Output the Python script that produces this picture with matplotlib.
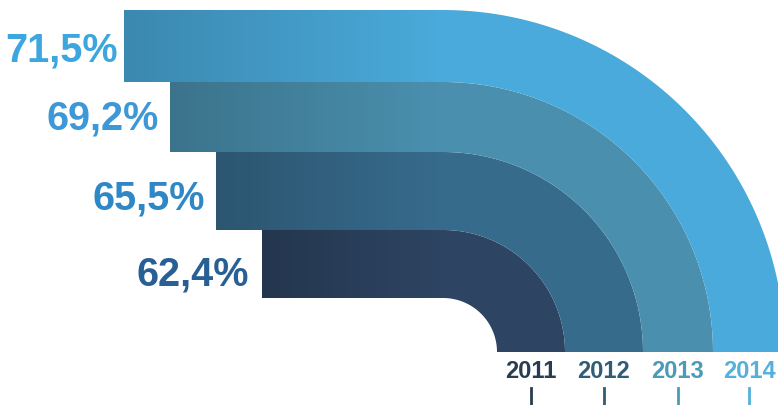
import numpy as np
import matplotlib.pyplot as plt
from matplotlib.path import Path
from matplotlib.patches import PathPatch

years = ['2011', '2012', '2013', '2014']
values = [62.4, 65.5, 69.2, 71.5]
labels = ['62,4%', '65,5%', '69,2%', '71,5%']
band_colors = ['#2d4462', '#376b8c', '#4a90ae', '#4aaadb']
label_colors = ['#285f95', '#2f87c6', '#3c98d6', '#3ca6de']
year_colors = ['#2a3c50', '#2f5d78', '#4a9ab8', '#55b0dc']

# layout (pixel space, y downwards)
cx, cy = 443, 352
r0 = 54
widths = [68, 78, 70, 72]
x0, step = 262, 46
label_dy = [11, 8, 2, 4]
label_gap = [13, 11, 11, 6]

plt.rcParams['font.family'] = ['Liberation Sans', 'DejaVu Sans']

fig = plt.figure(figsize=[7.78, 4.05], dpi=100)
ax = fig.add_axes([0, 0, 1, 1])
ax.set_xlim(0, 778)
ax.set_ylim(405, 0)
ax.axis('off')


def band(xs, r_in, r_out, n=80):
    th = np.linspace(np.pi / 2, 0, n)
    outer = [(xs, cy - r_out), (cx, cy - r_out)]
    outer += [(cx + r_out * np.cos(t), cy - r_out * np.sin(t)) for t in th]
    outer += [(cx + r_out, cy)]
    inner = [(cx + r_in, cy)]
    inner += [(cx + r_in * np.cos(t), cy - r_in * np.sin(t)) for t in th[::-1]]
    inner += [(cx, cy - r_in), (xs, cy - r_in)]
    verts = outer + inner + [(xs, cy - r_out)]
    codes = [Path.MOVETO] + [Path.LINETO] * (len(verts) - 2) + [Path.CLOSEPOLY]
    return Path(verts, codes)


grad = np.zeros((2, 256, 4))
grad[..., 3] = np.linspace(0.2, 0, 256)[None, :]

r_in = r0
for i, yr in enumerate(years):
    r_out = r_in + widths[i]
    xs = x0 - step * i
    patch = PathPatch(band(xs, r_in, r_out), facecolor=band_colors[i],
                      edgecolor='none', zorder=2)
    ax.add_patch(patch)
    im = ax.imshow(grad, extent=[xs, cx, cy - r_in, cy - r_out], aspect='auto',
                   zorder=3)
    im.set_clip_path(patch)

    ym = cy - (r_in + r_out) / 2 + label_dy[i]
    ax.text(xs - label_gap[i], ym, labels[i], ha='right', va='center',
            fontsize=28.5, fontweight='bold', color=label_colors[i])

    xm = cx + (r_in + r_out) / 2
    ax.text(xm, 372, yr, ha='center', va='center', fontsize=17,
            fontweight='bold', color=year_colors[i])
    ax.plot([xm, xm], [388, 404], color=year_colors[i], lw=2, zorder=2)
    r_in = r_out

fig.savefig('out.png', dpi=100)
